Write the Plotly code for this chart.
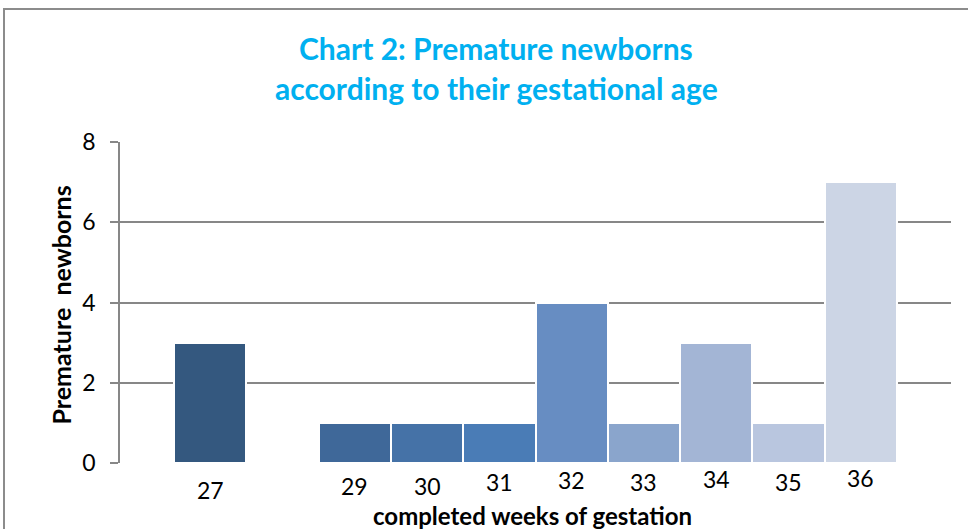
import plotly.graph_objects as go

weeks = [27, 29, 30, 31, 32, 33, 34, 35, 36]
counts = [3, 1, 1, 1, 4, 1, 3, 1, 7]
tick_labels = ["27", "29", "30", "31", "32", "33", "34", "35", "36"]
bar_colors = ["#34587F", "#3F6899", "#4572A7", "#4A7CB6", "#678DC2",
              "#8AA5CC", "#A3B5D5", "#B9C6DF", "#CCD5E5"]
label_shift = [-27, -23, -23, -19, -17, -19, -16, -19, -15]
y_ticks = [0, 2, 4, 6, 8]

FONT = "Lato"
GRID = "#878787"

fig = go.Figure()
fig.add_trace(go.Bar(
    x=weeks, y=counts, width=1,
    marker=dict(color=bar_colors, line=dict(color="white", width=2)),
    showlegend=False,
))

annotations = []
for w, lab, sh in zip(weeks, tick_labels, label_shift):
    annotations.append(dict(x=w, y=0, xref="x", yref="y", text=lab,
                            showarrow=False, yanchor="middle", yshift=sh,
                            font=dict(family=FONT, size=23, color="black")))

annotations += [
    dict(x=0.4525, y=1 + (142 - 48) / 321, xref="paper", yref="paper",
         text="<b>Chart 2: Premature newborns</b>", showarrow=False,
         yanchor="middle", font=dict(family=FONT, size=30, color="#00B0F0")),
    dict(x=0.4525, y=1 + (142 - 88) / 321, xref="paper", yref="paper",
         text="<b>according to their gestational age</b>", showarrow=False,
         yanchor="middle", font=dict(family=FONT, size=30, color="#00B0F0")),
    dict(x=(532 - 120) / 831, y=-(515 - 463) / 321, xref="paper", yref="paper",
         text="<b>completed weeks of gestation</b>", showarrow=False,
         yanchor="middle", font=dict(family=FONT, size=24, color="black")),
    dict(x=(60 - 120) / 831, y=(463 - 305.5) / 321, xref="paper", yref="paper",
         text="<b>Premature  newborns</b>", showarrow=False, textangle=-90,
         xanchor="center", yanchor="middle",
         font=dict(family=FONT, size=25, color="black")),
]

fig.update_layout(
    width=968, height=529,
    margin=dict(l=120, r=17, t=142, b=66),
    paper_bgcolor="white", plot_bgcolor="white",
    annotations=annotations,
    bargap=0,
    xaxis=dict(range=[25.75, 37.25], showticklabels=False, showgrid=False,
               zeroline=False, showline=False, fixedrange=True),
    yaxis=dict(range=[0, 8], tickvals=y_ticks, showgrid=True,
               gridcolor=GRID, gridwidth=1.5, zeroline=False,
               showline=True, linecolor=GRID, linewidth=1.5,
               ticks="outside", ticklen=8, tickcolor=GRID, tickwidth=1.5,
               ticklabelstandoff=10,
               tickfont=dict(family=FONT, size=23, color="black")),
    shapes=[dict(type="rect", xref="paper", yref="paper",
                 x0=(4 - 120) / 831, x1=1.2, y0=-0.5, y1=1 + (142 - 9) / 321,
                 line=dict(color="#8C8C8C", width=2), layer="below")],
)

fig.write_html("out.html",
               config={"displayModeBar": False},
               post_script="document.body.style.margin='0';document.body.style.overflow='hidden';")
